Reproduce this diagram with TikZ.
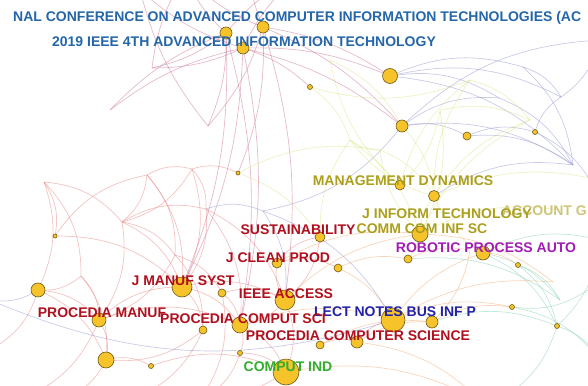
\documentclass[tikz,border=0pt]{standalone}
\usepackage{fontspec}
\setmainfont{Liberation Sans}
\definecolor{nodefill}{HTML}{F6C42A}
\definecolor{nodeedge}{HTML}{6E5C12}
\definecolor{confblue}{HTML}{2466A8}
\definecolor{olivetag}{HTML}{AC9F1E}
\definecolor{redtag}{HTML}{B0101E}
\definecolor{magtag}{HTML}{A21DB4}
\definecolor{navytag}{HTML}{2222A6}
\definecolor{greentag}{HTML}{33AE2E}
\definecolor{redlink}{HTML}{E47A78}
\definecolor{mauvelink}{HTML}{C4648E}
\definecolor{bluelink}{HTML}{8A8ACF}
\definecolor{limelink}{HTML}{D8E27A}
\definecolor{teallink}{HTML}{7CC9B0}
\definecolor{orangelink}{HTML}{F0A468}

\tikzset{
  journal/.style={circle, draw=nodeedge, fill=nodefill, line width=0.6pt,
                  inner sep=0pt, minimum size=#1},
  tag/.style={font=\fontsize{14}{14}\selectfont\bfseries, inner sep=0pt},
  link/.style={draw=#1, line width=0.7pt, opacity=0.45},
}

% name / centre / circle size
\def\journals{acit1/{226,33}/12, acit2/{263,27}/12, aitc/{243,48}/12,
  n1/{390,76}/15, n2/{402,126}/12, n3/{310,87}/5, n4/{467,136}/8,
  n5/{535,132}/5, n6/{238,173}/4, n7/{55,236}/4, mgmt/{400,185}/10,
  mandyn/{434,196}/11, commcom/{420,234}/16, sust/{320,237}/10,
  robot1/{408,259}/8, robot/{483,253}/14, n8/{518,265}/5, n9/{338,268}/8,
  jclean/{277,263}/10, n10/{38,290}/14, jmanuf/{182,287}/20, n11/{222,293}/8,
  ieee/{285,300}/20, lnbip/{393,320}/24, n12/{432,322}/12, n13/{512,307}/5,
  procmanuf/{99,320}/14, n14/{203,330}/8, procsci/{240,325}/16,
  proccs/{357,342}/12, n15/{320,345}/8, n16/{240,353}/5, n17/{106,360}/16,
  n18/{151,366}/5, computind/{286,372}/26, n19/{557,326}/5}

\begin{document}
\begin{tikzpicture}[x=1pt, y=-1pt]
  \useasboundingbox (0,0) rectangle (588,385);
  \clip (0,0) rectangle (588,385);

  \foreach \n/\p/\s in \journals
    \coordinate (\n) at (\p);
  % free ends of the links
  \foreach \n/\p in {q1/{185,-25}, q2/{300,-25}, q3/{250,-40}, q4/{140,-10},
                     pa/{152,68}, p1/{208,126}, p2/{110,110},
                     r1/{147,175}, r2/{192,169}, r3/{44,182}, r4/{122,222},
                     r5/{206,209}, r6/{175,255}, r7/{81,276}, rb1/{20,400},
                     rb2/{-10,350}, rb3/{130,400}, rb4/{60,400}, rb5/{200,400},
                     b1/{263,211}, b2/{523,67}, b3/{561,97}, b4/{499,98},
                     b5/{573,165}, b6/{600,40}, b7/{600,200}, bl1/{-10,300},
                     g1/{470,80}, g2/{530,120}, g3/{380,150}, g4/{350,140},
                     g5/{600,180}, g6/{560,210}, g7/{330,60}, g8/{440,110},
                     t1/{600,240}, t2/{560,300}, t3/{600,360}, t4/{500,400},
                     t5/{588,290}, o1/{553,282}, o2/{480,400}, o3/{470,250}}
    \coordinate (\n) at (\p);

  % links, one colour per cluster
  \foreach \a/\b in {acit1/q1, acit1/q2, acit2/q1, acit2/q3, aitc/q2, aitc/q4,
                     acit1/p1, acit2/p1, aitc/pa, acit1/pa, acit2/n1, aitc/n1,
                     acit2/n2, aitc/n2, aitc/jmanuf, acit1/jmanuf, acit2/ieee,
                     aitc/procsci, acit1/procsci, acit2/n6, p1/q4, pa/q1,
                     p2/acit1, p2/aitc, aitc/n3}
    \draw[link=mauvelink] (\a) to[bend left=12] (\b);

  \foreach \a/\b in {r1/r4, r1/r2, r1/r6, r1/jmanuf, r2/r5, r2/r4, r2/jmanuf,
                     r3/r7, r3/n7, r3/r4, r4/r6, r4/jmanuf, r4/procmanuf, r4/r5,
                     r5/ieee, r5/jmanuf, r5/procsci, r6/procmanuf, r6/n11,
                     r7/procmanuf, r7/n10, n10/procmanuf, n10/n17,
                     procmanuf/jmanuf, procmanuf/n17, procmanuf/procsci,
                     jmanuf/ieee, jmanuf/procsci, jmanuf/n14, n11/ieee,
                     ieee/procsci, ieee/computind, procsci/computind, n14/n17,
                     n17/n18, n18/computind, n16/computind, n15/proccs,
                     proccs/lnbip, ieee/jclean, jclean/sust, sust/ieee,
                     jclean/n9, computind/rb3, n17/rb4, n10/rb2, procmanuf/rb1,
                     n14/rb3, procsci/n16, n7/r1, n7/jmanuf, n16/rb5,
                     n11/rb5, r3/n10, r2/n6, r6/n14, r7/n17, n11/procsci}
    \draw[link=redlink] (\a) to[bend left=22] (\b);

  \foreach \a/\b in {n9/robot1, ieee/commcom, lnbip/robot, jclean/commcom,
                     n12/n13, lnbip/n13, robot/n8, commcom/o1, lnbip/o1,
                     proccs/n12, n9/lnbip, computind/o2, proccs/o2, o3/n12,
                     robot1/o3, procsci/lnbip, n15/n12}
    \draw[link=orangelink] (\a) to[bend left=18] (\b);

  \foreach \a/\b in {n1/b2, n1/b3, n1/b4, n2/b4, n2/b5, n2/n4, n4/n5, n4/b5,
                     n5/b3, b4/b5, b2/b5, n2/b6, n2/b1, b1/lnbip, b1/ieee,
                     mandyn/b5, b6/b3, n5/b7, n10/bl1, lnbip/bl1, r5/b1,
                     n1/b5, b2/b3}
    \draw[link=bluelink] (\a) to[bend left=20] (\b);

  \foreach \a/\b in {commcom/mandyn, mandyn/g1, mandyn/g2, commcom/g3,
                     mandyn/g4, g1/g2, g3/g4, n2/mandyn, commcom/robot1,
                     mandyn/g5, commcom/g6, g1/n3, robot/mandyn, commcom/g2,
                     sust/g4, n3/g4, n6/g3, n6/sust, mgmt/g7, mgmt/g1, g7/n2,
                     g8/mgmt, g8/commcom, g8/g2, g3/mandyn, g4/commcom}
    \draw[link=limelink] (\a) to[bend left=18] (\b);

  \foreach \a/\b in {robot/t1, robot/t2, n8/t2, n19/t3, n13/t3, n19/t4,
                     robot/n19, n8/n19, robot1/t2, n12/n19, t1/n19, t5/n13}
    \draw[link=teallink] (\a) to[bend left=20] (\b);

  % journals
  \foreach \n/\p/\s in \journals
    \node[journal=\s pt] at (\n) {};

  % labels
  \node[tag, text=confblue, anchor=west] (acitlab) at (13,18)
    {NAL CONFERENCE ON ADVANCED COMPUTER INFORMATION TECHNOLOGIES (AC};
  \node[tag, text=confblue] (aitclab) at (244,42)
    {2019 IEEE 4TH ADVANCED INFORMATION TECHNOLOGY};
  \node[tag, text=olivetag] (mgmtlab) at (403,181) {MANAGEMENT DYNAMICS};
  \node[tag, text=olivetag!60, anchor=east] (acctlab) at (587,211) {ACCOUNT G};
  \node[tag, text=olivetag] (jinflab) at (447,214) {J INFORM TECHNOLOGY};
  \node[tag, text=olivetag] (commlab) at (422,229) {COMM COM INF SC};
  \node[tag, text=redtag] (sustlab) at (298,230) {SUSTAINABILITY};
  \node[tag, text=magtag] (robotlab) at (486,248) {ROBOTIC PROCESS AUTO};
  \node[tag, text=redtag] (jcleanlab) at (278,258) {J CLEAN PROD};
  \node[tag, text=redtag] (jmanuflab) at (183,281) {J MANUF SYST};
  \node[tag, text=redtag] (ieeelab) at (286,294) {IEEE ACCESS};
  \node[tag, text=navytag] (lnbiplab) at (395,312) {LECT NOTES BUS INF P};
  \node[tag, text=redtag] (pmanuflab) at (102,313) {PROCEDIA MANUF};
  \node[tag, text=redtag] (pscilab) at (243,319) {PROCEDIA COMPUT SCI};
  \node[tag, text=redtag] (pcslab) at (358,336) {PROCEDIA COMPUTER SCIENCE};
  \node[tag, text=greentag] (cindlab) at (288,367) {COMPUT IND};
\end{tikzpicture}
\end{document}
